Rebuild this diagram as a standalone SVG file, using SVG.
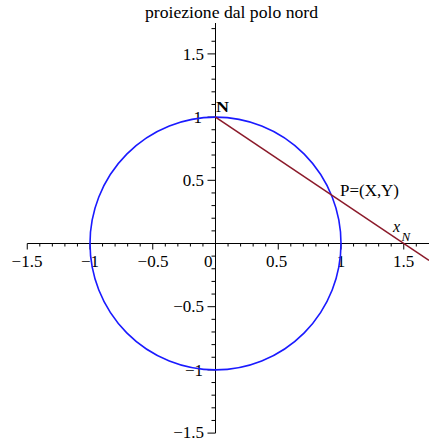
<svg xmlns="http://www.w3.org/2000/svg" width="429" height="443" viewBox="0 0 429 443">
<style>
text{font-family:"Liberation Serif","Times New Roman",serif;fill:#000}
.tl{font-size:17px}
.ax{stroke:#000;stroke-width:1;fill:none}
</style>
<rect width="429" height="443" fill="#fff"/>
<text x="231.5" y="17.5" style="font-size:17.5px" text-anchor="middle" textLength="173" lengthAdjust="spacingAndGlyphs">proiezione dal polo nord</text>
<g id="axes">
<path class="ax" d="M27.25 243.5H429M215.5 23V433.1"/>
<path class="ax" d="M27.25 243.5v6M90 243.5v6M152.75 243.5v6M278.25 243.5v6M341 243.5v6M403.75 243.5v6
M39.8 243.5v3M52.35 243.5v3M64.9 243.5v3M77.45 243.5v3M102.55 243.5v3M115.1 243.5v3M127.65 243.5v3M140.2 243.5v3M165.3 243.5v3M177.85 243.5v3M190.4 243.5v3M202.95 243.5v3M228.05 243.5v3M240.6 243.5v3M253.15 243.5v3M265.7 243.5v3M290.8 243.5v3M303.35 243.5v3M315.9 243.5v3M328.45 243.5v3M353.55 243.5v3M366.1 243.5v3M378.65 243.5v3M391.2 243.5v3M416.3 243.5v3"/>
<path class="ax" d="M215.5 53.9h-8M215.5 117.1h-8M215.5 180.3h-8M215.5 306.7h-8M215.5 369.9h-8M215.5 433.1h-8
M215.5 28.62h-4M215.5 41.26h-4M215.5 66.54h-4M215.5 79.18h-4M215.5 91.82h-4M215.5 104.46h-4M215.5 129.74h-4M215.5 142.38h-4M215.5 155.02h-4M215.5 167.66h-4M215.5 192.94h-4M215.5 205.58h-4M215.5 218.22h-4M215.5 230.86h-4M215.5 256.14h-4M215.5 268.78h-4M215.5 281.42h-4M215.5 294.06h-4M215.5 319.34h-4M215.5 331.98h-4M215.5 344.62h-4M215.5 357.26h-4M215.5 382.54h-4M215.5 395.18h-4M215.5 407.82h-4M215.5 420.46h-4"/>
<g class="tl" text-anchor="middle">
<text x="27" y="267">−1.5</text>
<text x="90" y="267">−1</text>
<text x="153" y="267">−0.5</text>
<text x="276.5" y="267">0.5</text>
<text x="341" y="267">1</text>
<text x="403.5" y="267">1.5</text>
</g>
<text class="tl" x="212.5" y="267" text-anchor="end">0</text>
<g class="tl" text-anchor="end">
<text x="204" y="60">1.5</text>
<text x="202" y="123">1</text>
<text x="204" y="186">0.5</text>
<text x="204" y="312">−0.5</text>
<text x="203" y="375.5">−1</text>
<text x="204" y="438">−1.5</text>
</g>
</g>
<g id="circle">
<ellipse cx="215.5" cy="243.5" rx="125.5" ry="126.4" fill="none" stroke="#1a1aff" stroke-width="1.6"/>
</g>
<g id="connectors">
<line x1="215.5" y1="117.1" x2="429" y2="260.45" stroke="#8b1a2a" stroke-width="1.6"/>
</g>
<g id="labels">
<text x="216" y="112" style="font-size:15.5px;font-weight:bold" textLength="13" lengthAdjust="spacingAndGlyphs">N</text>
<text x="340" y="195.5" style="font-size:16px" textLength="59" lengthAdjust="spacingAndGlyphs">P=(X,Y)</text>
<text x="393" y="232" style="font-size:16px;font-style:italic">x</text>
<text x="401.5" y="240.5" style="font-size:13px;font-style:italic">N</text>
</g>
</svg>
